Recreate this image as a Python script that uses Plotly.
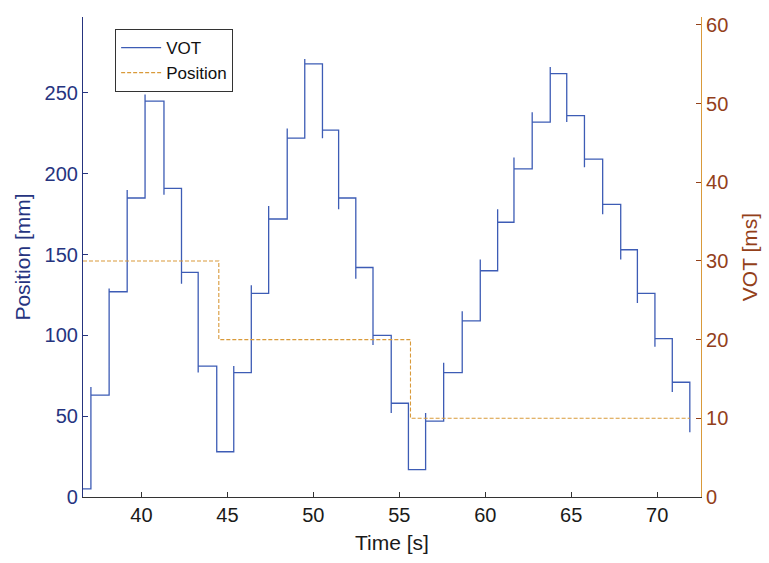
import plotly.graph_objects as go

# ---- data ----
t_start = 36.6
start_level = 5
step_times = [37.06, 38.12, 39.17, 40.21, 41.31, 42.33, 43.30, 44.38,
              45.37, 46.39, 47.40, 48.48, 49.50, 50.53, 51.47, 52.47,
              53.47, 54.53, 55.53, 56.53, 57.58, 58.66, 59.71, 60.72,
              61.67, 62.73, 63.78, 64.74, 65.77, 66.83, 67.88, 68.85,
              69.87, 70.88, 71.90]
step_levels = [63, 127, 185, 245, 191, 139, 81, 28,
               77, 126, 172, 222, 268, 227, 185, 142,
               100, 58, 17, 47, 77, 109, 140, 170,
               203, 232, 262, 236, 209, 181, 153, 126,
               98, 71, 40]
step_spikes = [68, 129, 190, 249, 187, 132, 77, 28,
               81, 131, 180, 228, 271, 222, 178, 135,
               94, 52, 17, 52, 83, 115, 147, 178,
               210, 238, 266, 232, 204, 175, 147, 120,
               93, 65, 40]

pos_times = [36.6, 44.5, 55.65, 71.9]
pos_levels = [30, 20, 10, 10]

x_ticks = [40, 45, 50, 55, 60, 65, 70]
y_left_ticks = [0, 50, 100, 150, 200, 250]
y_right_ticks = [0, 10, 20, 30, 40, 50, 60]

# ---- build step path for the blue series ----
xs, ys = [t_start], [start_level]
prev = start_level
for t, lv, sp in zip(step_times, step_levels, step_spikes):
    xs += [t, t, t]
    ys += [prev, sp, lv]
    prev = lv

navy = "#26347f"
brown = "#93401a"
blue_line = "#3d5cb5"
orange_line = "#d99a3a"
font = "Liberation Sans, Arial, sans-serif"

fig = go.Figure()
fig.add_trace(go.Scatter(x=xs, y=ys, mode="lines", name="VOT",
                         line=dict(color=blue_line, width=1.3)))
fig.add_trace(go.Scatter(x=pos_times, y=pos_levels, mode="lines", name="Position",
                         yaxis="y2", line_shape="hv",
                         line=dict(color=orange_line, width=1.1, dash="4px,2px")))

fig.update_layout(
    width=769, height=563,
    margin=dict(l=83, r=67, t=17, b=63),
    paper_bgcolor="white", plot_bgcolor="white",
    font=dict(family=font, size=20, color="#1a1a1a"),
    showlegend=True,
    legend=dict(x=0.052, y=0.975, xanchor="left", yanchor="top",
                bgcolor="white", bordercolor="#333333", borderwidth=1,
                font=dict(size=17, color="#111111"),
                tracegroupgap=0, itemwidth=40),
    xaxis=dict(range=[36.6, 72.55], tickvals=x_ticks, ticks="inside", ticklen=5,
               showline=True, linecolor="#333333", linewidth=1.2,
               tickcolor="#333333", showgrid=False, zeroline=False,
               tickfont=dict(size=20, color="#1a1a1a"),
               title=dict(text="Time [s]", font=dict(size=21, color="#1a1a1a"), standoff=10)),
    yaxis=dict(range=[0, 297], tickvals=y_left_ticks, ticks="inside", ticklen=5,
               showline=True, linecolor=navy, linewidth=1.2, tickcolor=navy,
               showgrid=False, zeroline=False,
               tickfont=dict(size=20, color=navy),
               title=dict(text="Position [mm]", font=dict(size=21, color=navy), standoff=8)),
    yaxis2=dict(range=[0, 61], tickvals=y_right_ticks, ticks="inside", ticklen=5,
                overlaying="y", side="right",
                showline=True, linecolor=orange_line, linewidth=1.2, tickcolor=brown,
                showgrid=False, zeroline=False,
                tickfont=dict(size=20, color=brown),
                title=dict(text="VOT [ms]", font=dict(size=21, color=brown), standoff=14)),
)

fig.write_html("out.html")
